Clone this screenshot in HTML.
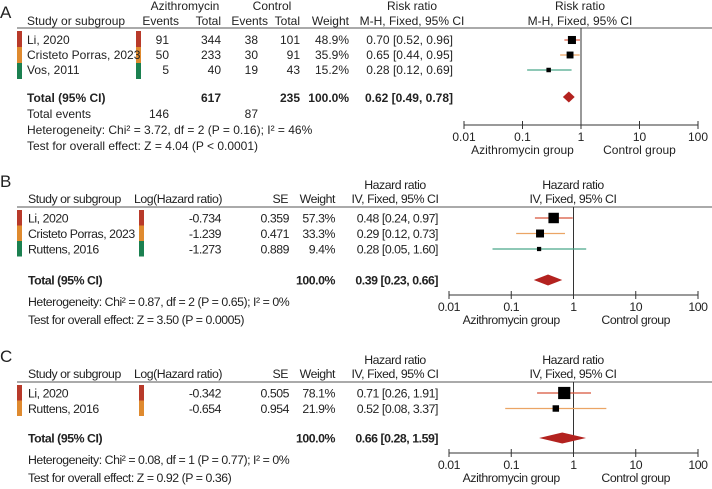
<!DOCTYPE html>
<html><head><meta charset="utf-8"><style>
html,body{margin:0;padding:0;background:#fff;}
svg{display:block;font-family:"Liberation Sans",Arial,sans-serif;fill:#222;}
.a{font-size:12px;}
.b{font-size:12.3px;letter-spacing:-0.45px;}
.bold{font-weight:bold;}
</style></head><body>
<svg id="chart" width="712" height="489" viewBox="0 0 712 489"></svg>
<script>
// Panel A data
const aStudies=["Li, 2020","Cristeto Porras, 2023","Vos, 2011"];
const aEvAz=[91,50,5];
const aTotAz=[344,233,40];
const aEvCt=[38,30,19];
const aTotCt=[101,91,43];
const aWeight=[48.9,35.9,15.2];
const aRR=[0.70,0.65,0.28];
const aLo=[0.52,0.44,0.12];
const aHi=[0.96,0.95,0.69];
const aTotal=[0.62,0.49,0.78];
// Panel B data
const bStudies=["Li, 2020","Cristeto Porras, 2023","Ruttens, 2016"];
const bLogHR=["-0.734","-1.239","-1.273"];
const bSE=["0.359","0.471","0.889"];
const bWeight=[57.3,33.3,9.4];
const bHR=[0.48,0.29,0.28];
const bLo=[0.24,0.12,0.05];
const bHi=[0.97,0.73,1.60];
const bTotal=[0.39,0.23,0.66];
// Panel C data
const cStudies=["Li, 2020","Ruttens, 2016"];
const cLogHR=["-0.342","-0.654"];
const cSE=["0.505","0.954"];
const cWeight=[78.1,21.9];
const cHR=[0.71,0.52];
const cLo=[0.26,0.08];
const cHi=[1.91,3.37];
const cTotal=[0.66,0.28,1.59];
const ticks=[0.01,0.1,1,10,100];
const tickLabels=["0.01","0.1","1","10","100"];

const NS="http://www.w3.org/2000/svg";
const svg=document.getElementById('chart');
const barCols=["#b83a2a","#df8a2f","#1b8050"];
const lineCols=["#d8553a","#eba565","#4aa88a"];
function el(tag,attrs,parent){const e=document.createElementNS(NS,tag);for(const k in attrs)e.setAttribute(k,attrs[k]);(parent||svg).appendChild(e);return e;}
function txt(s,x,y,anchor,cls,name){const t=el('text',{x:x,y:y,'text-anchor':anchor||'start','class':cls||''});t.textContent=s;


return t;}
function fmt(v){return v.toFixed(2);}
function xs(x0,x1){return v=>x0+(Math.log10(v)+2)/4*(x1-x0);}

function drawPlot(cfg){
  const X=xs(cfg.x0,cfg.x1);
  const g=el('g',{});
  
  
  const vl=el('line',{x1:X(1),x2:X(1),y1:cfg.top,y2:cfg.axisY,stroke:'#333','stroke-width':1},g);
  
  
  const ax=el('line',{x1:cfg.x0,x2:cfg.x1,y1:cfg.axisY,y2:cfg.axisY,stroke:'#333','stroke-width':1},g);
  
  
  ticks.forEach((t,i)=>{
    const tk=el('line',{x1:X(t),x2:X(t),y1:cfg.axisY-4,y2:cfg.axisY+4,stroke:'#333'},g);
    
    
    txt(tickLabels[i],X(t),cfg.axisY+16,'middle',cfg.cls,'x-tick-label');
  });
  txt("Azithromycin group",X(0.1),cfg.axisY+29,'middle',cfg.cls,'favours-azithromycin-label');
  txt("Control group",X(10),cfg.axisY+29,'middle',cfg.cls,'favours-control-label');
  cfg.est.forEach((v,i)=>{
    const y=cfg.rows[i];
    const l=el('line',{x1:X(cfg.lo[i]),x2:X(cfg.hi[i]),y1:y,y2:y,stroke:lineCols[i],'stroke-width':1.2},g);
    
    
    const s=cfg.k*Math.sqrt(cfg.w[i]);
    const r=el('rect',{x:X(v)-s/2,y:y-s/2,width:s,height:s,fill:'#000'},g);
    
    
  });
  const t=cfg.total,ty=cfg.totalY;
  const d=el('polygon',{points:`${X(t[1])},${ty} ${X(t[0])},${ty-5.5} ${X(t[2])},${ty} ${X(t[0])},${ty+5.5}`,fill:'#b3221f'},g);
  
  
}
function bars(xL,xR,y0,y1,n,name){
  const h=(y1-y0)/n;
  for(let i=0;i<n;i++){[xL,xR].forEach(x=>{
    const r=el('rect',{x:x,y:y0+i*h,width:5,height:h,fill:barCols[i]});
    
    
  });}
}

// ===== Panel A =====
txt("A",0,18,'start','','panel-a-label').setAttribute('style','font-size:17px');
txt("Azithromycin",185,10,'middle','a','azithromycin-header');
txt("Control",272,10,'middle','a','control-header');
txt("Study or subgroup",27,25,'start','a','study-header');
txt("Events",179,25,'end','a','events-header');
txt("Total",221,25,'end','a','total-header');
txt("Events",268,25,'end','a','events-header');
txt("Total",300,25,'end','a','total-header');
txt("Weight",349,25,'end','a','weight-header');
txt("Risk ratio",412,10,'middle','a','risk-ratio-header');
txt("M-H, Fixed, 95% CI",412,25,'middle','a','method-header');
txt("Risk ratio",580,10,'middle','a','risk-ratio-plot-header');
txt("M-H, Fixed, 95% CI",580,25,'middle','a','method-plot-header');
el('line',{x1:17,x2:712,y1:28,y2:28,stroke:'#555','stroke-width':1});
bars(17,136,31,79,3,'panel-a');
const aRows=[44,59,74];
aStudies.forEach((s,i)=>{const y=aRows[i];
  txt(s,27,y,'start','a','study-name');
  txt(String(aEvAz[i]),169,y,'end','a','events-value');
  txt(String(aTotAz[i]),221,y,'end','a','total-value');
  txt(String(aEvCt[i]),258,y,'end','a','events-value');
  txt(String(aTotCt[i]),300,y,'end','a','total-value');
  txt(aWeight[i].toFixed(1)+'%',349,y,'end','a','weight-value');
  txt(`${fmt(aRR[i])} [${fmt(aLo[i])}, ${fmt(aHi[i])}]`,453,y,'end','a','ci-value');
});
const aSumAz=aTotAz.reduce((p,c)=>p+c,0),aSumCt=aTotCt.reduce((p,c)=>p+c,0);
txt("Total (95% CI)",27,102,'start','a bold','total-label');
txt(String(aSumAz),221,102,'end','a bold','total-value');
txt(String(aSumCt),300,102,'end','a bold','total-value');
txt("100.0%",349,102,'end','a bold','weight-total');
txt(`${fmt(aTotal[0])} [${fmt(aTotal[1])}, ${fmt(aTotal[2])}]`,453,102,'end','a bold','pooled-ci');
txt("Total events",27,118,'start','a','total-events-label');
txt(String(aEvAz.reduce((p,c)=>p+c,0)),169,118,'end','a','total-events-value');
txt(String(aEvCt.reduce((p,c)=>p+c,0)),258,118,'end','a','total-events-value');
txt("Heterogeneity: Chi² = 3.72, df = 2 (P = 0.16); I² = 46%",27,134,'start','a','heterogeneity-text');
txt("Test for overall effect: Z = 4.04 (P < 0.0001)",27,150,'start','a','overall-effect-text');
drawPlot({name:'panel-a',x0:464,x1:698,top:28,axisY:125,rows:[40,55,70],totalY:97,est:aRR,lo:aLo,hi:aHi,w:aWeight,k:1.15,total:aTotal,cls:'a'});

// ===== Panel B / C helper =====
function hrPanel(p){
  const Y=p.y;
  txt(p.letter,0,Y+17,'start','','panel-'+p.letter.toLowerCase()+'-label').setAttribute('style','font-size:17px');
  txt("Hazard ratio",395,Y+19,'middle','b','hazard-ratio-header');
  txt("Study or subgroup",28,Y+33,'start','b','study-header');
  txt("Log(Hazard ratio)",222,Y+33,'end','b','log-hr-header');
  txt("SE",288,Y+33,'end','b','se-header');
  txt("Weight",335,Y+33,'end','b','weight-header');
  txt("IV, Fixed, 95% CI",395,Y+33,'middle','b','method-header');
  txt("Hazard ratio",573,Y+19,'middle','b','hazard-ratio-plot-header');
  txt("IV, Fixed, 95% CI",573,Y+33,'middle','b','method-plot-header');
  el('line',{x1:17,x2:712,y1:Y+37,y2:Y+37,stroke:'#555','stroke-width':1});
  const n=p.studies.length;
  bars(17,139,Y+40,Y+40+15.5*n,n,'panel-'+p.letter.toLowerCase());
  const rows=p.studies.map((s,i)=>Y+48+15.5*i);
  p.studies.forEach((s,i)=>{const y=rows[i]+4.5;
    txt(s,28,y,'start','b','study-name');
    txt(p.log[i],221,y,'end','b','log-hr-value');
    txt(p.se[i],289,y,'end','b','se-value');
    txt(p.w[i].toFixed(1)+'%',335,y,'end','b','weight-value');
    txt(`${fmt(p.hr[i])} [${fmt(p.lo[i])}, ${fmt(p.hi[i])}]`,438,y,'end','b','ci-value');
  });
  const ty=p.totalY;
  txt("Total (95% CI)",28,ty+4.5,'start','b bold','total-label');
  txt("100.0%",335,ty+4.5,'end','b bold','weight-total');
  txt(`${fmt(p.total[0])} [${fmt(p.total[1])}, ${fmt(p.total[2])}]`,438,ty+4.5,'end','b bold','pooled-ci');
  txt(p.het,28,ty+26,'start','b','heterogeneity-text');
  txt(p.test,28,ty+44,'start','b','overall-effect-text');
  drawPlot({name:'panel-'+p.letter.toLowerCase(),x0:449,x1:698,top:Y+37,axisY:ty+15,rows:rows,totalY:ty,est:p.hr,lo:p.lo,hi:p.hi,w:p.w,k:1.38,total:p.total,cls:'b'});
}
hrPanel({letter:'B',y:170,studies:bStudies,log:bLogHR,se:bSE,w:bWeight,hr:bHR,lo:bLo,hi:bHi,total:bTotal,totalY:280,
  het:"Heterogeneity: Chi² = 0.87, df = 2 (P = 0.65); I² = 0%",test:"Test for overall effect: Z = 3.50 (P = 0.0005)"});
hrPanel({letter:'C',y:345,studies:cStudies,log:cLogHR,se:cSE,w:cWeight,hr:cHR,lo:cLo,hi:cHi,total:cTotal,totalY:438,
  het:"Heterogeneity: Chi² = 0.08, df = 1 (P = 0.77); I² = 0%",test:"Test for overall effect: Z = 0.92 (P = 0.36)"});
</script>
</body></html>
